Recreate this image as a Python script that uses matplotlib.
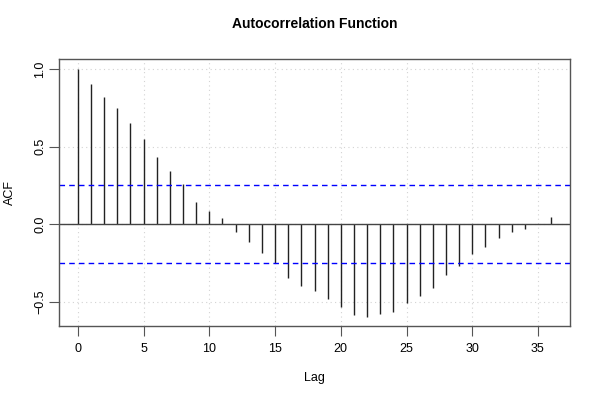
import matplotlib
matplotlib.use("Agg")
import matplotlib.pyplot as plt
import numpy as np

lags = list(range(37))
acf = [1.0, 0.903, 0.822, 0.749, 0.652, 0.551, 0.435, 0.343, 0.258, 0.144,
       0.086, 0.039, -0.047, -0.112, -0.187, -0.249, -0.343, -0.395, -0.427, -0.478,
       -0.530, -0.581, -0.594, -0.575, -0.562, -0.508, -0.461, -0.408, -0.328, -0.266,
       -0.189, -0.144, -0.086, -0.047, -0.028, 0.004, 0.045]
conf = 0.251
xticks = [0, 5, 10, 15, 20, 25, 30, 35]
yticks = [-0.5, 0.0, 0.5, 1.0]

plt.rcParams['font.family'] = ['Liberation Sans', 'DejaVu Sans']
fig = plt.figure(figsize=(6, 4), dpi=100)
ax = fig.add_axes([59/600, 74/400, 511/600, 267/400])

ax.set_xlim(-1.44, 37.44)
ax.set_ylim(-0.654, 1.064)

for t in xticks:
    ax.axvline(t, color='#d3d3d3', lw=0.8, ls=(0, (1, 3)), zorder=0)
for t in yticks:
    ax.axhline(t, color='#d3d3d3', lw=0.8, ls=(0, (1, 3)), zorder=0)

ax.vlines(lags, 0, acf, color='#222222', lw=1.0)
ax.axhline(0, color='#444444', lw=1.0)
ax.axhline(conf, color='#0000ff', lw=1.0, ls=(0, (4, 3)))
ax.axhline(-conf, color='#0000ff', lw=1.0, ls=(0, (4, 3)))

for s in ax.spines.values():
    s.set_color('#555555')
    s.set_linewidth(1.0)

ax.set_xticks(xticks)
ax.set_xticklabels([str(t) for t in xticks], fontsize=9)
ax.set_yticks(yticks)
ax.set_yticklabels(['−0.5', '0.0', '0.5', '1.0'], fontsize=9, rotation=90, va='center')
ax.tick_params(axis='x', length=7, width=0.8, color='#555555', pad=5)
ax.tick_params(axis='y', length=7, width=0.8, color='#555555', pad=2)

ax.text(0.5, 1.131, 'Autocorrelation Function', transform=ax.transAxes,
        ha='center', va='center', fontsize=10, fontweight='bold')
ax.set_xlabel('Lag', fontsize=9)
ax.set_ylabel('ACF', fontsize=9)
ax.xaxis.set_label_coords(0.5, -0.195)
ax.yaxis.set_label_coords(-0.0959, 0.5)
ax.xaxis.label.set_va('center')
ax.yaxis.label.set_va('center')

fig.savefig('out.png', dpi=100)
